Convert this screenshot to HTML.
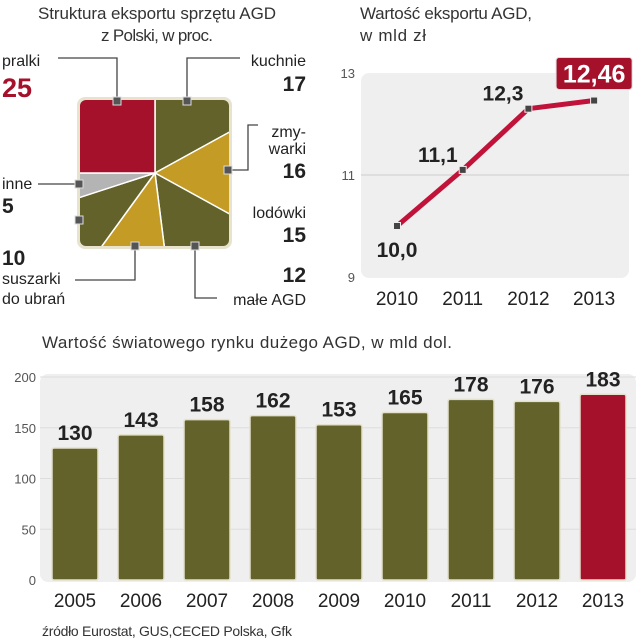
<!DOCTYPE html>
<html><head><meta charset="utf-8"><style>
body{margin:0;background:#fff;}
svg{display:block;font-family:"Liberation Sans",sans-serif;}
.t{fill:#333;font-size:17px;}
.lb{fill:#222;font-size:16px;}
.num{fill:#222;font-size:21px;font-weight:bold;}
.tick{fill:#555;font-size:13px;}
.yr{fill:#222;font-size:19px;}
</style></head><body>
<svg id="c" width="643" height="640" viewBox="0 0 643 640">
<text class="t" x="157" y="19" text-anchor="middle" textLength="238">Struktura eksportu sprzętu AGD</text>
<text class="t" x="157" y="41" text-anchor="middle" textLength="112">z Polski, w proc.</text>
<text class="t" x="360" y="19" textLength="172">Wartość eksportu AGD,</text>
<text class="t" x="360" y="41" textLength="66">w mld zł</text>
<defs><clipPath id="sq"><rect x="80" y="100" width="149" height="146" rx="6"/></clipPath></defs>
<rect x="77" y="97" width="155" height="152" rx="8" fill="#e8e3cf"/>
<g id="pie" clip-path="url(#sq)"></g>
<g stroke="#444" stroke-width="1.3" fill="none">
<polyline points="58,58 117,58 117,101"/><polyline points="187,101 187,58 240,58"/>
<polyline points="228,170 248,170 248,125 258,125"/><polyline points="38,184 79,184"/>
<polyline points="135,246 135,280 75,280"/><polyline points="195,246 195,298 217,298"/>
</g>
<g fill="#555" stroke="#ddd" stroke-width="1">
<rect x="113" y="97" width="8" height="8"/><rect x="183" y="97" width="8" height="8"/>
<rect x="224" y="166" width="8" height="8"/><rect x="75" y="180" width="8" height="8"/>
<rect x="75" y="216" width="8" height="8"/><rect x="131" y="242" width="8" height="8"/>
<rect x="191" y="242" width="8" height="8"/></g>
<text class="lb" x="2" y="66">pralki</text>
<text x="2" y="97" font-size="27" font-weight="bold" fill="#a5102a">25</text>
<text class="lb" x="306" y="66" text-anchor="end">kuchnie</text>
<text class="num" x="306" y="91" text-anchor="end">17</text>
<text class="lb" x="306" y="137" text-anchor="end">zmy-</text>
<text class="lb" x="306" y="154" text-anchor="end">warki</text>
<text class="num" x="306" y="178" text-anchor="end">16</text>
<text class="lb" x="306" y="218" text-anchor="end">lodówki</text>
<text class="num" x="306" y="242" text-anchor="end">15</text>
<text class="num" x="306" y="282" text-anchor="end">12</text>
<text class="lb" x="306" y="305" text-anchor="end">małe AGD</text>
<text class="lb" x="2" y="189">inne</text>
<text class="num" x="2" y="213">5</text>
<text class="num" x="2" y="265">10</text>
<text class="lb" x="2" y="284">suszarki</text>
<text class="lb" x="2" y="304">do ubrań</text>
<rect x="361" y="73" width="268" height="205" rx="8" fill="#efefef"/>
<g id="line"></g>
<text class="t" x="42" y="348" textLength="410">Wartość światowego rynku dużego AGD, w mld dol.</text>
<rect x="40" y="374" width="596" height="208" rx="8" fill="#efefef"/>
<g id="bars"></g>
<text x="42" y="636" font-size="14" fill="#333" textLength="250">źródło Eurostat, GUS,CECED Polska, Gfk</text>
</svg>
<script>
const pieValues=[17,16,15,12,10,5,25];
const pieColors=["#62622a","#c39b25","#62622a","#c39b25","#62622a","#b4b4b4","#a5102a"];
const lineYears=["2010","2011","2012","2013"];
const lineValues=[10.0,11.1,12.3,12.46];
const lineLabels=["10,0","11,1","12,3","12,46"];
const lineTicks=[9,11,13];
const barYears=["2005","2006","2007","2008","2009","2010","2011","2012","2013"];
const barValues=[130,143,158,162,153,165,178,176,183];
const barTicks=[0,50,100,150,200];
const NS="http://www.w3.org/2000/svg";
function mk(p,t,a){const e=document.createElementNS(NS,t);for(const k in a)e.setAttribute(k,a[k]);p.appendChild(e);return e;}
const pie=document.getElementById('pie');const cx=155,cy=173,R=200;
const tot=pieValues.reduce((a,b)=>a+b,0);let ang=0;
pieValues.forEach((v,i)=>{const a0=ang/tot*2*Math.PI;ang+=v;const a1=ang/tot*2*Math.PI;
const x0=cx+R*Math.sin(a0),y0=cy-R*Math.cos(a0),x1=cx+R*Math.sin(a1),y1=cy-R*Math.cos(a1);
const p=mk(pie,'path',{d:`M${cx},${cy}L${x0},${y0}A${R},${R} 0 ${a1-a0>Math.PI?1:0} 1 ${x1},${y1}Z`,fill:pieColors[i],stroke:'#fff','stroke-width':1.5});

});
const lg=document.getElementById('line');
const lx=i=>397+i*65.7, ly=v=>277-(v-9)/4*204;
lineTicks.forEach(t=>{const tx=mk(lg,'text',{x:355,y:ly(t)+5,'text-anchor':'end',class:'tick'});tx.textContent=t;


if(t==11)mk(lg,'line',{x1:361,x2:629,y1:ly(t),y2:ly(t),stroke:'#ccc'});});
mk(lg,'polyline',{points:lineValues.map((v,i)=>lx(i)+','+ly(v)).join(' '),fill:'none',stroke:'#c1123a','stroke-width':5,'stroke-linejoin':'round'});
lineValues.forEach((v,i)=>{const m=mk(lg,'rect',{x:lx(i)-3.5,y:ly(v)-3.5,width:7,height:7,fill:'#444',stroke:'#eee'});


const yt=mk(lg,'text',{x:lx(i),y:305,'text-anchor':'middle',class:'yr'});yt.textContent=lineYears[i];


let t;
if(i==3){mk(lg,'rect',{x:lx(i)-38,y:ly(v)-43,width:76,height:32,rx:3,fill:'#a5102a',stroke:'#ddd'});
t=mk(lg,'text',{x:lx(i),y:ly(v)-18,'text-anchor':'middle',fill:'#fff','font-size':25,'font-weight':'bold'});}
else if(i==0)t=mk(lg,'text',{x:lx(i),y:ly(v)+31,'text-anchor':'middle',class:'num'});
else t=mk(lg,'text',{x:lx(i)-5,y:ly(v)-8,'text-anchor':'end',class:'num'});
t.textContent=lineLabels[i];

});
const bg=document.getElementById('bars');
const bx=i=>75+i*66, by=v=>580-v/200*203;
barTicks.forEach(t=>{if(t>0)mk(bg,'line',{x1:40,x2:636,y1:by(t),y2:by(t),stroke:'#ddd'});
const tx=mk(bg,'text',{x:36,y:by(t)+5,'text-anchor':'end',class:'tick'});tx.textContent=t;

});
barValues.forEach((v,i)=>{const last=i==barValues.length-1;
const r=mk(bg,'rect',{x:bx(i)-23,y:by(v),width:46,height:580-by(v),rx:2,fill:last?'#a5102a':'#62622a',stroke:'#e4e0cc','stroke-width':1.5});


const t=mk(bg,'text',{x:bx(i),y:by(v)-8,'text-anchor':'middle',class:'num'});t.textContent=v;


const y=mk(bg,'text',{x:bx(i),y:607,'text-anchor':'middle',class:'yr'});y.textContent=barYears[i];

});
</script>
</body></html>
